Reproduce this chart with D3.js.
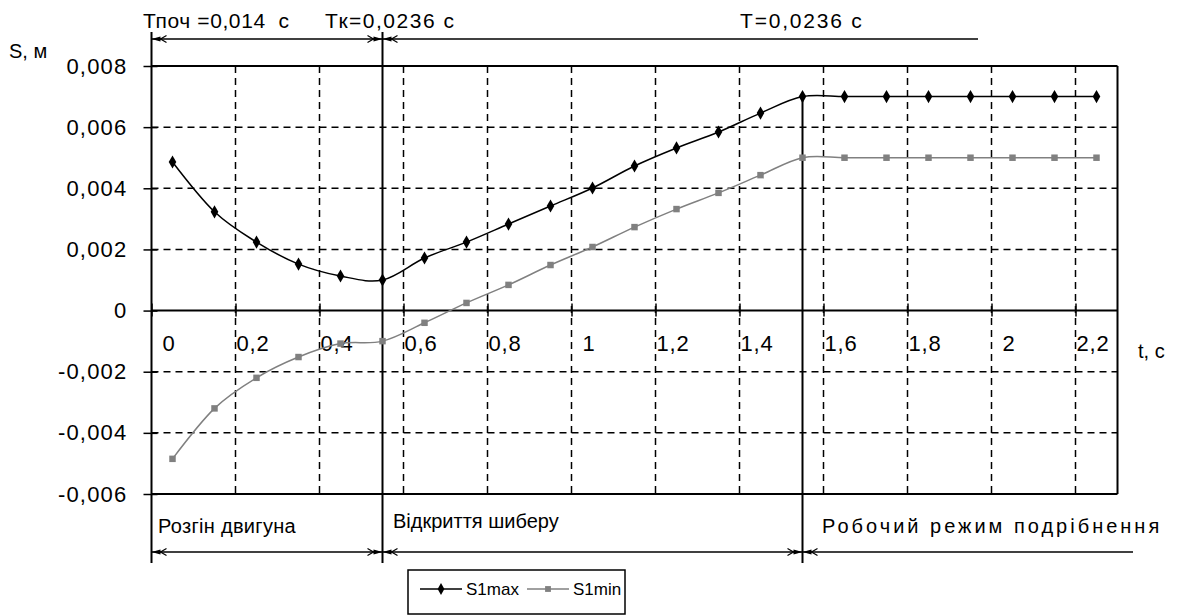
<!DOCTYPE html>
<html>
<head>
<meta charset="utf-8">
<script src="https://cdn.jsdelivr.net/npm/d3@7"></script>
<style>
  body { margin: 0; background: #fff; }
  text { font-family: 'Liberation Sans', Arial, sans-serif; fill: #000; }
</style>
</head>
<body>
<div id="viz"></div>
<script>
// chart data
var tValues = [0.05, 0.15, 0.25, 0.35, 0.45, 0.55, 0.65, 0.75, 0.85, 0.95, 1.05, 1.15,
               1.25, 1.35, 1.45, 1.55, 1.65, 1.75, 1.85, 1.95, 2.05, 2.15, 2.25];
var s1max = [0.00486, 0.00323, 0.00224, 0.00152, 0.00113, 0.0010, 0.00172, 0.00224,
             0.00283, 0.00342, 0.00401, 0.00473, 0.00532, 0.00584, 0.00646, 0.0070,
             0.0070, 0.0070, 0.0070, 0.0070, 0.0070, 0.0070, 0.0070];
var s1min = [-0.00485, -0.0032, -0.0022, -0.00152, -0.00108, -0.0010, -0.0004, 0.00025,
             0.00084, 0.00149, 0.00208, 0.00273, 0.00332, 0.00385, 0.00443, 0.0050,
             0.0050, 0.0050, 0.0050, 0.0050, 0.0050, 0.0050, 0.0050];

var xTickValues = [0, 0.2, 0.4, 0.6, 0.8, 1, 1.2, 1.4, 1.6, 1.8, 2, 2.2];
var xTickLabels = ['0', '0,2', '0,4', '0,6', '0,8', '1', '1,2', '1,4', '1,6', '1,8', '2', '2,2'];
var yTickValues = [-0.006, -0.004, -0.002, 0, 0.002, 0.004, 0.006, 0.008];
var yTickLabels = ['-0,006', '-0,004', '-0,002', '0', '0,002', '0,004', '0,006', '0,008'];

// phase boundaries (t) and their captions
var phaseStarts = [0, 0.55, 1.55];
var phaseLabels = ['Розгін двигуна', 'Відкриття шиберу', 'Робочий режим подрібнення'];
var timeLabels = ['Тпоч =0,014  с', 'Тк=0,0236 с', 'T=0,0236 с'];
var seriesNames = ['S1max', 'S1min'];

var width = 1187, height = 616;

var svg = d3.select('#viz').append('svg')
  .attr('width', width)
  .attr('height', height);

var x = d3.scaleLinear().domain([0, 2.3]).range([151.5, 1117.5]);
var y = d3.scaleLinear().domain([-0.006, 0.008]).range([494, 66]);

var plotTop = y(0.008), plotBottom = y(-0.006);
var plotLeft = x(0), plotRight = x(2.3);

// dashed grid
var grid = svg.append('g').attr('class', 'grid');
grid.selectAll('.hgrid')
  .data(yTickValues.filter(function (d) { return d !== 0 && d !== 0.008 && d !== -0.006; }))
  .enter().append('line')
  .attr('x1', plotLeft).attr('x2', plotRight)
  .attr('y1', function (d) { return y(d); })
  .attr('y2', function (d) { return y(d); })
  .attr('stroke', '#000').attr('stroke-width', 1.5)
  .attr('stroke-dasharray', '7,5');
grid.selectAll('.vgrid')
  .data(xTickValues.filter(function (d) { return d > 0; }))
  .enter().append('line')
  .attr('y1', plotTop).attr('y2', plotBottom)
  .attr('x1', function (d) { return x(d); })
  .attr('x2', function (d) { return x(d); })
  .attr('stroke', '#000').attr('stroke-width', 1.5)
  .attr('stroke-dasharray', '7,5');

// plot border
svg.append('line').attr('x1', plotLeft).attr('x2', plotRight)
  .attr('y1', plotTop).attr('y2', plotTop).attr('stroke', '#000').attr('stroke-width', 2);
svg.append('line').attr('x1', plotLeft).attr('x2', plotRight)
  .attr('y1', plotBottom).attr('y2', plotBottom).attr('stroke', '#000').attr('stroke-width', 2);
svg.append('line').attr('x1', plotRight).attr('x2', plotRight)
  .attr('y1', plotTop).attr('y2', plotBottom).attr('stroke', '#000').attr('stroke-width', 2);

// y axis (long line goes up to the dimension arrows and down to the phase row)
svg.append('line').attr('x1', plotLeft).attr('x2', plotLeft)
  .attr('y1', 32).attr('y2', 563).attr('stroke', '#000').attr('stroke-width', 2);
var yAxis = svg.append('g')
  .attr('transform', 'translate(' + plotLeft + ',0)')
  .call(d3.axisLeft(y)
    .tickValues(yTickValues)
    .tickSizeInner(8).tickSizeOuter(0).tickPadding(16)
    .tickFormat(function (d, i) { return yTickLabels[i]; }));
yAxis.select('.domain').remove();
yAxis.selectAll('.tick line').attr('x2', -8).attr('x1', 6).attr('stroke-width', 1.5);
yAxis.selectAll('.tick text')
  .attr('font-family', "'Liberation Sans', Arial, sans-serif")
  .attr('font-size', 22)
  .attr('letter-spacing', 1.2);

// x axis through zero
var xAxis = svg.append('g')
  .attr('transform', 'translate(0,' + y(0) + ')')
  .call(d3.axisBottom(x)
    .tickValues(xTickValues)
    .tickSizeInner(0).tickSizeOuter(0)
    .tickFormat(function (d, i) { return xTickLabels[i]; }));
xAxis.select('.domain').attr('d', 'M' + plotLeft + ',0H' + plotRight)
  .attr('stroke-width', 2);
xAxis.selectAll('.tick line').attr('y1', -7).attr('y2', 6).attr('stroke-width', 1.5);
xAxis.selectAll('.tick text')
  .attr('font-family', "'Liberation Sans', Arial, sans-serif")
  .attr('font-size', 22)
  .attr('letter-spacing', 0.8)
  .attr('x', 17).attr('y', 40).attr('dy', 0);

// axis titles
svg.append('text').attr('x', 9).attr('y', 58).attr('font-size', 20).text('S, м');
svg.append('text').attr('x', 1138).attr('y', 358).attr('font-size', 20).text('t, с');

// phase separator lines
svg.append('line').attr('x1', x(phaseStarts[1])).attr('x2', x(phaseStarts[1]))
  .attr('y1', 32).attr('y2', 563).attr('stroke', '#000').attr('stroke-width', 2);
svg.append('line').attr('x1', x(phaseStarts[2])).attr('x2', x(phaseStarts[2]))
  .attr('y1', y(s1max[tValues.indexOf(phaseStarts[2])])).attr('y2', 563)
  .attr('stroke', '#000').attr('stroke-width', 2);

// dimension arrows
function arrowHead(g, xp, yp, dir) {
  // dir = 1 points right (tip at xp), -1 points left
  g.append('path')
    .attr('d', 'M' + xp + ',' + yp + 'L' + (xp - dir * 9) + ',' + (yp - 2.5) +
      'L' + (xp - dir * 9) + ',' + (yp + 2.5) + 'Z')
    .attr('fill', '#000');
  g.append('path')
    .attr('d', 'M' + (xp - dir * 15) + ',' + (yp - 3.5) + 'L' + (xp - dir * 9) + ',' + yp +
      'L' + (xp - dir * 15) + ',' + (yp + 3.5))
    .attr('fill', 'none').attr('stroke', '#000').attr('stroke-width', 1.2);
}
function dimLine(yp, x1, x2, both) {
  var g = svg.append('g');
  g.append('line').attr('x1', x1).attr('x2', x2).attr('y1', yp).attr('y2', yp)
    .attr('stroke', '#000').attr('stroke-width', 1.5);
  arrowHead(g, x1, yp, -1);
  if (both) arrowHead(g, x2, yp, 1);
}
dimLine(39, x(phaseStarts[0]), x(phaseStarts[1]), true);
dimLine(39, x(phaseStarts[1]), 978, false);
dimLine(552, x(phaseStarts[0]), x(phaseStarts[1]), true);
dimLine(552, x(phaseStarts[1]), x(phaseStarts[2]), true);
dimLine(552, x(phaseStarts[2]), 1133, false);

// time captions on top
var timeX = [143, 325, 740];
var timeSpacing = [0.6, 1.5, 1.8];
svg.selectAll('.timeLabel').data(timeLabels).enter().append('text')
  .attr('class', 'timeLabel')
  .attr('x', function (d, i) { return timeX[i]; })
  .attr('y', 28)
  .attr('font-size', 21)
  .attr('letter-spacing', function (d, i) { return timeSpacing[i]; })
  .style('white-space', 'pre')
  .text(function (d) { return d; });

// phase captions at the bottom
var phaseX = [158, 393, 822];
var phaseY = [533, 528, 533];
var phaseSpacing = [0.3, 0, 3];
svg.selectAll('.phaseLabel').data(phaseLabels).enter().append('text')
  .attr('class', 'phaseLabel')
  .attr('x', function (d, i) { return phaseX[i]; })
  .attr('y', function (d, i) { return phaseY[i]; })
  .attr('font-size', 20)
  .attr('letter-spacing', function (d, i) { return phaseSpacing[i]; })
  .text(function (d) { return d; });

// series lines
var line = d3.line()
  .x(function (d) { return x(d[0]); })
  .y(function (d) { return y(d[1]); })
  .curve(d3.curveCatmullRom.alpha(0));

var maxData = tValues.map(function (t, i) { return [t, s1max[i]]; });
var minData = tValues.map(function (t, i) { return [t, s1min[i]]; });

svg.append('path').datum(minData).attr('d', line)
  .attr('fill', 'none').attr('stroke', '#808080').attr('stroke-width', 1.5);
svg.append('path').datum(maxData).attr('d', line)
  .attr('fill', 'none').attr('stroke', '#000').attr('stroke-width', 1.5);

svg.selectAll('.minPt').data(minData).enter().append('path')
  .attr('class', 'minPt')
  .attr('transform', function (d) { return 'translate(' + x(d[0]) + ',' + y(d[1]) + ')'; })
  .attr('d', d3.symbol().type(d3.symbolSquare).size(42))
  .attr('fill', '#808080');
svg.selectAll('.maxPt').data(maxData).enter().append('path')
  .attr('class', 'maxPt')
  .attr('transform', function (d) { return 'translate(' + x(d[0]) + ',' + y(d[1]) + ')'; })
  .attr('d', d3.symbol().type(d3.symbolDiamond).size(50))
  .attr('fill', '#000');

// legend
var legend = svg.append('g').attr('transform', 'translate(408,570)');
legend.append('rect').attr('x', 0).attr('y', 0).attr('width', 217).attr('height', 44)
  .attr('fill', '#fff').attr('stroke', '#000').attr('stroke-width', 1.5);
var legendColors = ['#000', '#808080'];
var legendSymbols = [d3.symbolDiamond, d3.symbolSquare];
seriesNames.forEach(function (name, i) {
  var gx = 12 + i * 107;
  legend.append('line').attr('x1', gx).attr('x2', gx + 42).attr('y1', 19).attr('y2', 19)
    .attr('stroke', legendColors[i]).attr('stroke-width', 1.5);
  legend.append('path').attr('transform', 'translate(' + (gx + 21) + ',19)')
    .attr('d', d3.symbol().type(legendSymbols[i]).size(i === 0 ? 40 : 34))
    .attr('fill', legendColors[i]);
  legend.append('text').attr('x', gx + 46).attr('y', 25).attr('font-size', 17).text(name);
});
</script>
</body>
</html>
